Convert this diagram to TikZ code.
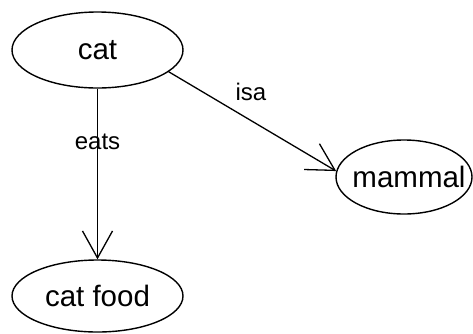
\documentclass[tikz,border=0pt]{standalone}
\usepackage{fontspec}
\setmainfont{Liberation Sans}
\usetikzlibrary{shapes.geometric,arrows.meta}
\begin{document}
\begin{tikzpicture}[x=1pt,y=-1pt,
  concept/.style={draw, ellipse, line width=1.4pt, inner sep=0pt, font=\fontsize{29.5}{32}\selectfont},
  rel/.style={draw, line width=1.3pt, -{Straight Barb[length=27pt,width=30pt]}},
  rellabel/.style={font=\fontsize{24}{28}\selectfont, inner sep=0pt}]
\useasboundingbox (0,0) rectangle (473,333);
\node[concept, minimum width=171pt, minimum height=76pt] (cat) at (97.5,50) {cat};
\node[concept, minimum width=171pt, minimum height=72pt] (food) at (97.5,296) {cat food};
\node[concept, minimum width=136pt, minimum height=74pt, inner xsep=-14pt] (mammal) at (404,177) {\hspace*{10pt}mammal};
\draw[rel] (cat) -- (food);
\draw[rel] (cat.-17.4) -- (mammal.175.9);
\node[rellabel] (eatslbl) at (97.5,142) {eats};
\node[rellabel] (isalbl) at (251,92) {isa};
\end{tikzpicture}
\end{document}
